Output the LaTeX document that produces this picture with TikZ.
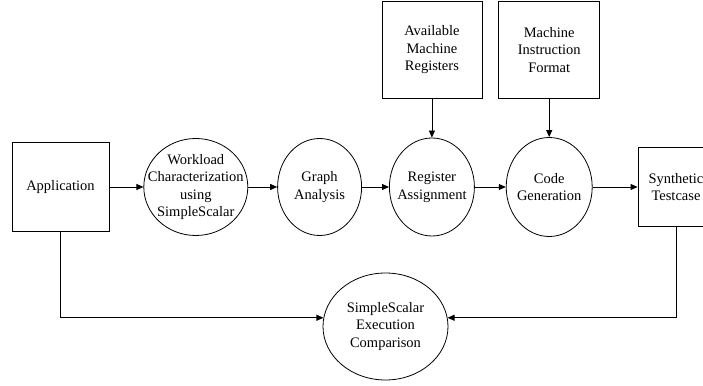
\documentclass[tikz,border=0pt]{standalone}
\usepackage{fontspec}
\setmainfont{Liberation Serif}
\usetikzlibrary{shapes.geometric, arrows.meta, positioning}

\begin{document}
\begin{tikzpicture}[
  x=1pt, y=1pt,
  node distance=30pt,
  box/.style={
    rectangle, draw=black, line width=0.8pt,
    minimum width=100pt, minimum height=97pt,
    align=center, font=\fontsize{14.5pt}{17.6pt}\selectfont
  },
  proc/.style={
    ellipse, draw=black, line width=0.8pt, inner sep=0pt,
    minimum width=86pt, minimum height=97pt
  },
  txt/.style={align=center, inner sep=0pt, font=\fontsize{14.5pt}{17.6pt}\selectfont},
  arrow/.style={-{Triangle[length=7pt, width=6pt]}, line width=0.8pt}
]
\useasboundingbox (0,0) rectangle (703,385);

% Hauptreihe
\node[box, minimum width=97pt, minimum height=89pt] (App) at (60.5,198) {Application};
\node[proc, minimum width=104pt, right=34pt of App,
      label={[txt]center:{Workload\\Characterization\\using\\SimpleScalar}}] (WC) {};
\node[proc, minimum width=84pt, right=29pt of WC,
      label={[txt]center:{Graph\\Analysis}}] (GA) {};
\node[proc, minimum width=85pt, minimum height=98pt, right=27pt of GA,
      label={[txt]center:{Register\\Assignment}}] (RA) {};
\node[proc, minimum width=86pt, minimum height=99pt, right=31pt of RA,
      label={[txt]center:{Code\\Generation}}] (CG) {};
\node[box, minimum width=76pt, minimum height=79pt, right=45pt of CG] (ST) {Synthetic\\Testcase};

% Eingaben oben
\node[box, above=39pt of RA] (AMR) {Available\\Machine\\Registers};
\node[box, minimum width=101pt, above=38.5pt of CG] (MIF) {Machine\\Instruction\\Format};

% Vergleich unten
\node[proc, minimum width=125pt, minimum height=107pt,
      label={[txt]center:{SimpleScalar\\Execution\\Comparison}}] (SEC) at (385.5,58.5) {};

% Pfeile
\draw[arrow] (App) -- (WC);
\draw[arrow] (WC) -- (GA);
\draw[arrow] (GA) -- (RA);
\draw[arrow] (RA) -- (CG);
\draw[arrow] (CG) -- (ST);
\draw[arrow] (AMR) -- (RA);
\draw[arrow] (MIF) -- (CG);
\draw[arrow] (App.south) |- (SEC.172);
\draw[arrow] (ST.south) |- (SEC.8);

\end{tikzpicture}
\end{document}
